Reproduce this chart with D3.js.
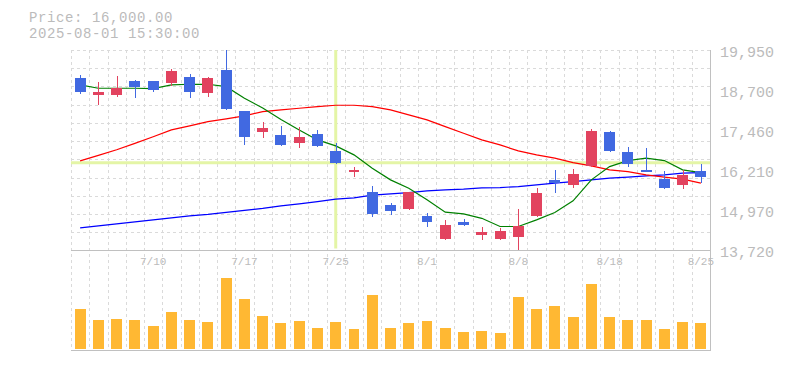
<!DOCTYPE html>
<html>
<head>
  <meta charset="utf-8">
  <title>Daily candles with volume</title>
  <script src="https://cdn.jsdelivr.net/npm/d3@7/dist/d3.min.js"></script>
  <style>
    body { margin: 0; background: #fff; }
    text { font-family: "Liberation Mono", "DejaVu Sans Mono", monospace; fill: #bbb; }
  </style>
</head>
<body>
<script>
  // trading days and values
  const dates = ["7/4","7/7","7/8","7/9","7/10","7/11","7/14","7/15","7/16","7/17","7/18","7/22","7/23","7/24","7/25",
                 "7/28","7/29","7/30","7/31","8/1","8/4","8/5","8/6","8/7","8/8","8/12","8/13","8/14","8/15",
                 "8/18","8/19","8/20","8/21","8/22","8/25"];
  const tickDates = ["7/10","7/17","7/25","8/1","8/8","8/18","8/25"];

  const open  = [19090,18550,18550,18990,18990,18935,19120,18620,19330,18060,17410,17310,17070,17340,16815,16170,15530,15120,15015,14800,14080,14620,14210,14080,14155,14800,15915,15740,16350,17405,16785,16225,15945,15760,16195];
  const high  = [19170,18970,19150,19020,19000,19360,19200,19100,19950,18060,17720,17590,17550,17470,17050,16330,15710,15190,15550,14900,14670,14700,14465,14415,15015,15675,16225,16255,17500,17435,16950,16900,16195,16225,16410];
  const low   = [18580,18240,18500,18470,18650,18830,18470,18500,18090,17000,17220,16970,16920,16950,16410,15990,14750,14830,14985,14465,14050,14495,14050,14050,13740,14755,15520,15675,16330,16785,16320,16160,15635,15635,15810];
  const close = [18660,18660,18780,18810,18710,19300,18660,19090,18120,17260,17520,17000,17240,16970,16450,16225,14860,14950,15530,14610,14520,14520,14310,14330,14490,15520,15810,16100,17435,16815,16420,16170,15675,16070,16015];
  const volume = [400,290,300,290,230,370,290,270,710,500,330,260,280,210,270,200,540,210,260,280,210,170,180,160,520,400,430,320,650,320,290,290,200,270,260];

  const ma5  = [18864,18761,18761,18761,18749,18864,18885,18885,18811,18451,18150,17793,17467,17156,16970,16691,16278,15915,15657,15294,14912,14859,14720,14465,14465,14673,14900,15263,15915,16328,16514,16588,16514,16225,16141];
  const ma25 = [16505,16675,16852,17048,17256,17467,17591,17724,17808,17901,18035,18088,18140,18190,18234,18234,18190,18088,17932,17777,17569,17364,17156,17001,16815,16691,16588,16452,16349,16225,16172,16070,15999,15937,15812];
  const ma75 = [14425,14487,14549,14611,14673,14735,14797,14844,14906,14968,15030,15108,15170,15241,15316,15356,15440,15480,15521,15573,15604,15626,15666,15676,15707,15760,15812,15862,15915,15968,15999,16039,16070,16123,16141];

  const yTicks = [19950, 18700, 17460, 16210, 14970, 13720];
  const priceText = "Price: 16,000.00";
  const timeText = "2025-08-01 15:30:00";
  const cursorDate = "7/25";

  const width = 785, height = 370;
  const plot = {left: 71, right: 710, top: 50, bottom: 250.5};
  const vol = {top: 250.5, bottom: 350.5};

  const svg = d3.select("body").append("svg")
      .attr("width", width)
      .attr("height", height);

  const x = d3.scaleBand().domain(dates)
      .range([plot.left, plot.right])
      .paddingInner(0.4).paddingOuter(0.2);
  const cx = d => x(d) + x.bandwidth() / 2;
  const y = d3.scaleLinear().domain([13720, 19950]).range([plot.bottom, plot.top]);
  const yv = d3.scaleLinear().domain([0, 1000]).range([348.5, 248.5]);

  const gap = (x.step() - x.bandwidth()) / 2;
  const slots = dates.map(d => x(d) - gap).concat([plot.right]);

  // grid
  const grid = svg.append("g").attr("id", "grid")
      .attr("stroke", "#dadada").attr("stroke-dasharray", "3,3")
      .attr("shape-rendering", "crispEdges");
  grid.selectAll(".vgrid").data(slots.slice(0, -1)).enter().append("line")
      .attr("x1", d => Math.round(d) + 0.5).attr("x2", d => Math.round(d) + 0.5)
      .attr("y1", plot.top).attr("y2", vol.bottom);
  const hLevels = d3.range(1, 12).map(i => 13720 + i * (19950 - 13720) / 11);
  grid.selectAll(".hgrid").data(hLevels).enter().append("line")
      .attr("x1", plot.left).attr("x2", plot.right)
      .attr("y1", d => Math.round(y(d)) + 0.5).attr("y2", d => Math.round(y(d)) + 0.5);

  // cursor crosshair
  const ci = dates.indexOf(cursorDate);
  svg.append("line")
      .attr("x1", cx(cursorDate)).attr("x2", cx(cursorDate))
      .attr("y1", plot.top).attr("y2", plot.bottom - 2)
      .attr("stroke", "#e4f5a6").attr("stroke-width", 3);
  svg.append("line")
      .attr("x1", plot.left).attr("x2", plot.right)
      .attr("y1", y(close[ci])).attr("y2", y(close[ci]))
      .attr("stroke", "#e4f5a6").attr("stroke-width", 3);

  // moving averages
  const line = d3.line().x((d, i) => cx(dates[i])).y(d => y(d));
  [[ma75, "#0000ff"], [ma25, "#ff0000"], [ma5, "#008000"]].forEach(([s, c]) => {
    svg.append("path").datum(s)
        .attr("d", line)
        .attr("fill", "none").attr("stroke", c).attr("stroke-width", 1.2);
  });

  // candles
  const up = i => close[i] >= open[i];
  const candles = svg.append("g").attr("id", "candles").attr("shape-rendering", "crispEdges");
  const idx = d3.range(dates.length);
  candles.selectAll(".wick").data(idx).enter().append("line")
      .attr("x1", i => Math.round(cx(dates[i])) + 0.5).attr("x2", i => Math.round(cx(dates[i])) + 0.5)
      .attr("y1", i => y(high[i])).attr("y2", i => y(low[i]))
      .attr("stroke", i => up(i) ? "#e2435f" : "#4169e1").attr("stroke-width", 1.5);
  candles.selectAll(".body").data(idx).enter().append("rect")
      .attr("x", i => x(dates[i]))
      .attr("width", x.bandwidth())
      .attr("y", i => y(Math.max(open[i], close[i])))
      .attr("height", i => Math.max(2, Math.abs(y(open[i]) - y(close[i]))))
      .attr("fill", i => up(i) ? "#e2435f" : "#4169e1");

  // volume
  svg.append("g").attr("id", "volume").attr("shape-rendering", "crispEdges")
    .selectAll("rect").data(idx).enter().append("rect")
      .attr("x", i => x(dates[i]))
      .attr("width", x.bandwidth())
      .attr("y", i => yv(volume[i]))
      .attr("height", i => yv(0) - yv(volume[i]))
      .attr("fill", "#ffb833");

  // axis lines
  const axis = svg.append("g").attr("stroke", "#c0c0c0").attr("shape-rendering", "crispEdges");
  axis.append("line").attr("x1", plot.left).attr("x2", plot.right + 0.5)
      .attr("y1", plot.bottom).attr("y2", plot.bottom);
  axis.append("line").attr("x1", plot.left).attr("x2", plot.right + 0.5)
      .attr("y1", vol.bottom).attr("y2", vol.bottom);
  axis.append("line").attr("x1", plot.right + 0.5).attr("x2", plot.right + 0.5)
      .attr("y1", plot.top).attr("y2", vol.bottom);

  // price labels
  svg.append("g").selectAll("text").data(yTicks).enter().append("text")
      .attr("x", 720).attr("y", d => y(d) + 3)
      .attr("dominant-baseline", "central")
      .style("font-size", "15px")
      .text(d => d3.format(",")(d));

  // date labels
  svg.append("g").selectAll("text").data(tickDates).enter().append("text")
      .attr("x", d => cx(d)).attr("y", 262)
      .attr("dominant-baseline", "central")
      .attr("text-anchor", "middle")
      .style("font-size", "11px")
      .text(d => d);

  // cursor readout
  svg.append("text").attr("x", 29).attr("y", 17.5)
      .attr("dominant-baseline", "central")
      .style("font-size", "14px").style("letter-spacing", "0.6px")
      .text(priceText);
  svg.append("text").attr("x", 29).attr("y", 33.5)
      .attr("dominant-baseline", "central")
      .style("font-size", "14px").style("letter-spacing", "0.6px")
      .text(timeText);
</script>
</body>
</html>
